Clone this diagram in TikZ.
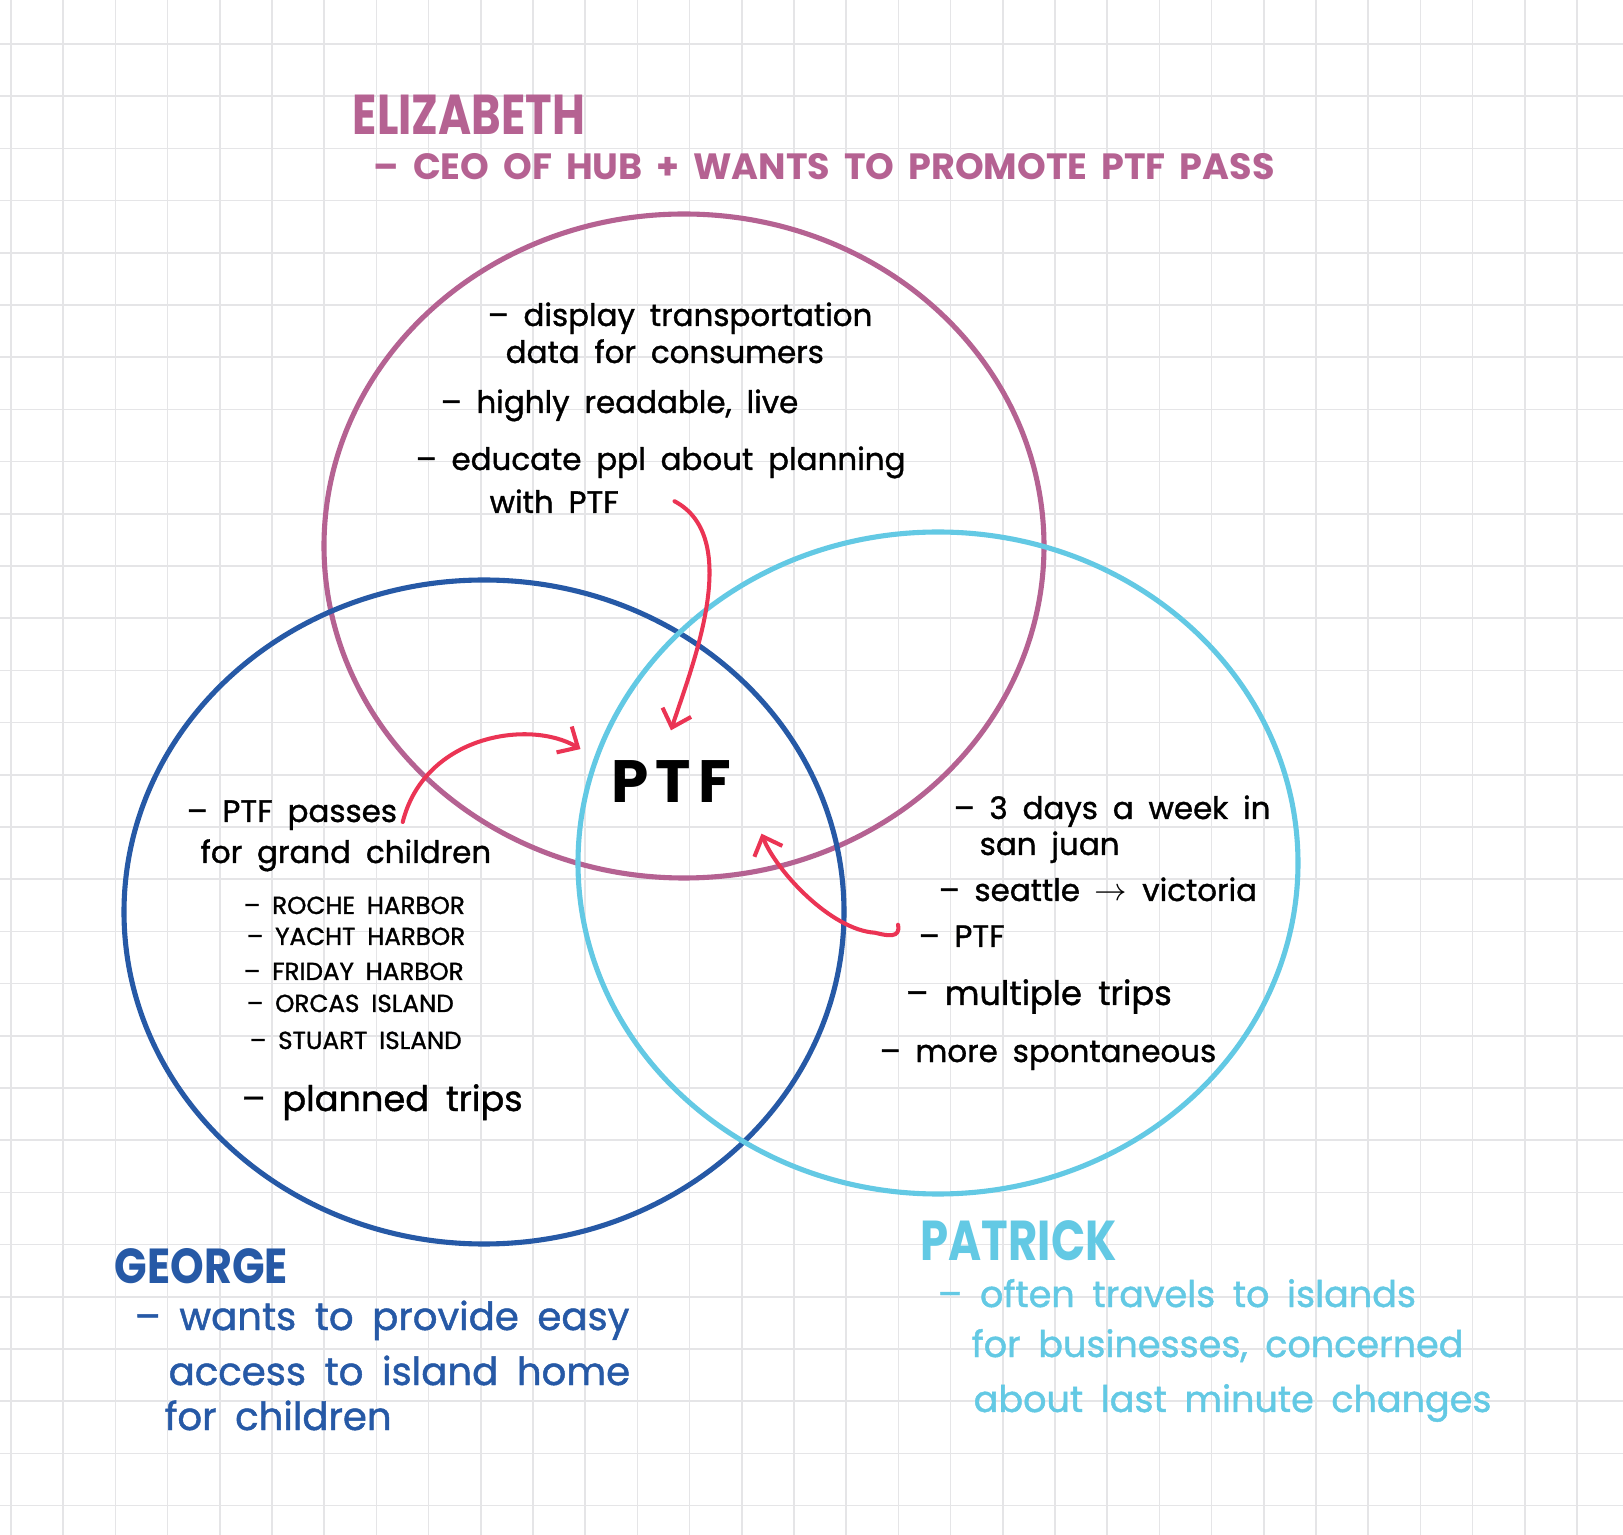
\documentclass[tikz,border=0pt]{standalone}
\usepackage{fontspec}
\usepackage{graphicx}
\setmainfont{Poppins}[WordSpace=1.8]
\newfontfamily\inkfont{Poppins}[WordSpace=1.8, FakeBold=1.2]
\usetikzlibrary{arrows.meta}
\definecolor{elizPurple}{RGB}{181, 98, 146}
\definecolor{georgeBlue}{RGB}{38, 89, 166}
\definecolor{patrickCyan}{RGB}{99, 201, 228}
\definecolor{linkRed}{RGB}{235, 52, 84}
\definecolor{gridGray}{RGB}{229, 229, 231}

\begin{document}
\begin{tikzpicture}[x=0.1mm, y=-0.1mm,
    ring/.style={line width=1.45pt},
    link/.style={draw=linkRed, line width=1.15pt, line cap=round, line join=round,
      -{Straight Barb[length=1.6mm, width=3mm]}},
    note/.style={anchor=base west, inner sep=0pt, font=\inkfont\fontsize{8.8}{10.5}\selectfont},
    place/.style={anchor=base west, inner sep=0pt, font=\inkfont\fontsize{7}{8.5}\selectfont},
    who/.style={anchor=base west, inner sep=0pt, font=\fontsize{16}{19}\selectfont\bfseries},
    about/.style={anchor=base west, inner sep=0pt, font=\inkfont\fontsize{11}{13}\selectfont},
    hub/.style={inner sep=3mm, font=\fontsize{17}{20}\selectfont\bfseries\addfontfeatures{LetterSpace=12}}]

% paper
\useasboundingbox (0,0) rectangle (1623,1535);
\fill[white] (0,0) rectangle (1623,1535);
\foreach \gx in {11,63.2,...,1623}
  \draw[gridGray, line width=0.5pt] (\gx,0) -- (\gx,1535);
\foreach \gy in {44,96.2,...,1535}
  \draw[gridGray, line width=0.5pt] (0,\gy) -- (1623,\gy);

% the three personas
\draw[ring, elizPurple] (684,546) ellipse [x radius=360, y radius=332];
\draw[ring, georgeBlue] (484,912) ellipse [x radius=360, y radius=332];
\draw[ring, patrickCyan] (938,863) ellipse [x radius=360, y radius=331];

% names
\node[who, elizPurple] (elizname) at (352,135) {\scalebox{0.8}[1]{ELIZABETH}};
\node[about, elizPurple, font=\fontsize{10.4}{12}\selectfont\bfseries] (elizrole) at (373,180) {– CEO OF HUB + WANTS TO PROMOTE PTF PASS};
\node[who, georgeBlue, font=\fontsize{14}{17}\selectfont\bfseries] (georgename) at (114,1283) {\scalebox{0.87}[1]{GEORGE}};
\node[about, georgeBlue] (georgerole) at (134,1330) {– wants to provide easy};
\node[about, georgeBlue] (georgerole2) at (168,1385) {access to island home};
\node[about, georgeBlue] (georgerole3) at (164,1430) {for children};
\node[who, patrickCyan] (patname) at (920,1260) {\scalebox{0.8}[1]{PATRICK}};
\node[about, patrickCyan, font=\inkfont\fontsize{10.4}{12.5}\selectfont] (patrole) at (937,1307) {– often travels to islands};
\node[about, patrickCyan, font=\inkfont\fontsize{10.4}{12.5}\selectfont] (patrole2) at (971,1357) {for businesses, concerned};
\node[about, patrickCyan, font=\inkfont\fontsize{10.4}{12.5}\selectfont] (patrole3) at (973,1412) {about last minute changes};

% shared middle
\node[hub] (ptf) at (671,782) {PTF};

% elizabeth notes
\node[note] (elizdisplay) at (487,326) {– display transportation};
\node[note] (elizdata) at (505,363) {data for consumers};
\node[note] (elizread) at (440,413) {– highly readable, live};
\node[note] (elizedu) at (415,470) {– educate ppl about planning};
\node[note] (elizwith) at (489,513) {with PTF};

% george notes
\node[note] (georgepass) at (186,822) {– PTF passes};
\node[note] (georgekids) at (200,863) {for grand children};
\node[place] (roche) at (243,914) {– ROCHE HARBOR};
\node[place] (yacht) at (246,945) {– YACHT HARBOR};
\node[place] (friday) at (243,980) {– FRIDAY HARBOR};
\node[place] (orcas) at (246,1012) {– ORCAS ISLAND};
\node[place] (stuart) at (249,1049) {– STUART ISLAND};
\node[note, font=\inkfont\fontsize{10}{12}\selectfont] (planned) at (241,1111) {– planned trips};

% patrick notes
\node[note] (patdays) at (953,819) {– 3 days a week in};
\node[note] (patsan) at (979,855) {san juan};
\node[note] (patroute) at (938,901) {– seattle $\rightarrow$ victoria};
\node[note] (patptf) at (918,947) {– PTF};
\node[note, font=\inkfont\fontsize{9.6}{11}\selectfont] (patmulti) at (905,1005) {– multiple trips};
\node[note] (patspont) at (879,1062) {– more spontaneous};

% links into PTF
\draw[link] ([xshift=5.5mm]elizwith.east) .. controls +(70,37) and +(20,-62) .. (ptf.north);
\draw[link] ([xshift=0.5mm]georgepass.base east) .. controls +(22,-87) and +(-51,-30) .. (ptf.160);
\draw[link] ([xshift=-2mm]patptf.north west) .. controls +(3,14) and +(12,3) .. ++(-23,8)
  .. controls +(-45,-3) and +(14,36) .. (ptf.south east);
\end{tikzpicture}
\end{document}
